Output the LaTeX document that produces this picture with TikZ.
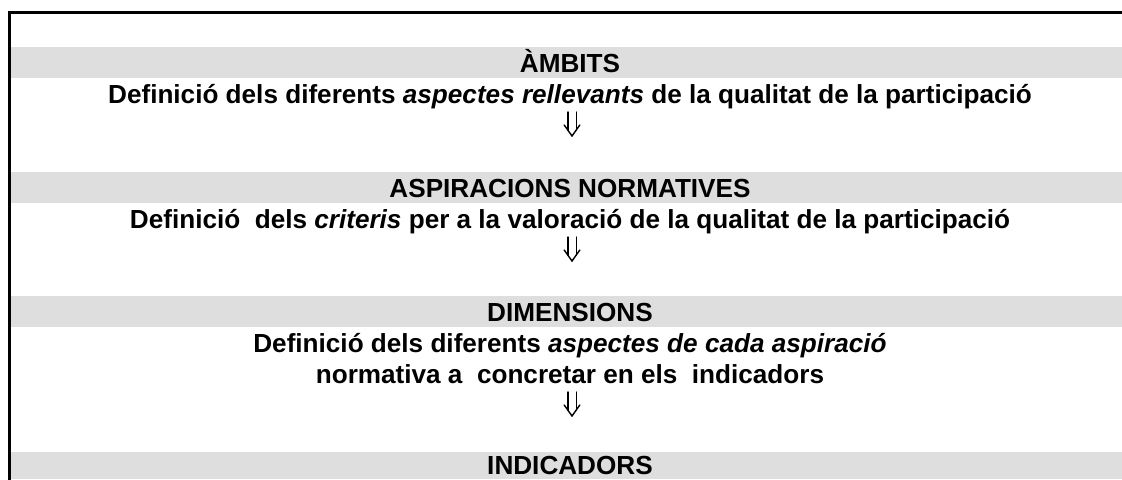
\documentclass[tikz,border=0pt]{standalone}
\usepackage{fontspec}
\setmainfont{Liberation Sans}
\definecolor{bandgray}{RGB}{222,222,222}
\begin{document}
\begin{tikzpicture}[x=0.75pt,y=-0.75pt,
  txt/.style={anchor=base,inner sep=0pt,font=\fontsize{19.6}{23}\selectfont\bfseries},
  arrline/.style={line width=1.05pt,line cap=round,line join=miter},
  frame/.style={line width=1.6pt,line cap=rect},
  dblarrow/.pic={
    \draw[arrline] (-4.2,0) -- (-4.2,18);
    \draw[arrline] (4.2,0) -- (4.2,18);
    \draw[arrline] (-7.8,13) -- (0,24) -- (7.8,13);
  }]
\useasboundingbox (0,0) rectangle (1122,479);
% gray bands
\fill[bandgray] (10.5,47) rectangle (1122,78);
\fill[bandgray] (10.5,172) rectangle (1122,203);
\fill[bandgray] (10.5,296) rectangle (1122,327);
\fill[bandgray] (10.5,452) rectangle (1122,479);
% frame
\coordinate (ftl) at (9.5,12.5);
\coordinate (ftr) at (1122,12.5);
\coordinate (fbl) at (9.5,479);
\draw[frame] (ftr) -- (ftl) -- (fbl);
% texts
\node[txt] (t1) at (570,72) {ÀMBITS};
\node[txt] (d1) at (570,103) {Definició dels diferents \textit{aspectes rellevants} de la qualitat de la participació};
\node[txt] (t2) at (570,197) {ASPIRACIONS NORMATIVES};
\node[txt] (d2) at (570,228) {Definició\ \ dels \textit{criteris} per a la valoració de la qualitat de la participació};
\node[txt] (t3) at (570,321) {DIMENSIONS};
\node[txt] (d3a) at (570,352) {Definició dels diferents \textit{aspectes de cada aspiració}};
\node[txt] (d3b) at (570,383) {normativa a\ \ concretar en els\ \ indicadors};
\node[txt] (t4) at (570,474) {INDICADORS};
% arrows
\pic at (572,112) {dblarrow};
\pic at (572,237) {dblarrow};
\pic at (572,392) {dblarrow};
\end{tikzpicture}
\end{document}
